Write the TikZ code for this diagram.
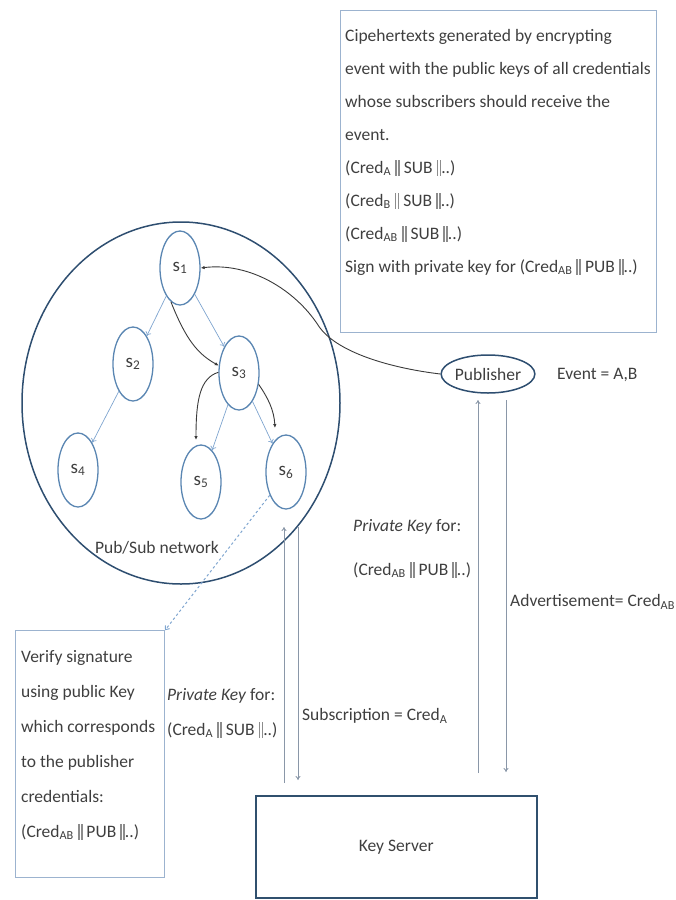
\documentclass[tikz,border=0pt]{standalone}
\usepackage{fontspec}
\setmainfont{Carlito}
\usetikzlibrary{shapes.geometric,arrows.meta}
\definecolor{txt}{HTML}{3F3F3F}
\definecolor{nodeblue}{HTML}{5A86B2}
\definecolor{circblue}{HTML}{2E4E70}
\definecolor{boxblue}{HTML}{9CB3CF}
\definecolor{ksblue}{HTML}{30506E}
\definecolor{arrblue}{HTML}{7FA5CF}
\definecolor{darkarr}{HTML}{3A3A3A}
\definecolor{grayarr}{HTML}{8A97A8}
\definecolor{barcol}{HTML}{8C8C8C}
\newcommand\dbar{\textcolor{barcol}{\rule[-0.15em]{0.1em}{0.9em}\hspace{0.07em}\rule[-0.15em]{0.1em}{0.9em}}}
\tikzset{
  snode/.style={ellipse, draw=nodeblue, line width=1.3pt, minimum width=40pt, minimum height=74pt, inner sep=0pt, font=\fontsize{19}{22}\selectfont\color{txt}},
  barrow/.style={draw=arrblue, line width=0.7pt, -{To[length=4pt,width=6pt]}},
  darrow/.style={draw=darkarr, line width=0.9pt, -{Latex[length=4pt,width=3.5pt]}},
  varrow/.style={draw=grayarr, line width=0.9pt, -{To[length=4pt,width=5pt]}},
  dasharr/.style={draw=arrblue, line width=1pt, dash pattern=on 2.5pt off 2.5pt, -{To[length=4pt,width=6pt]}},
  plain/.style={inner sep=0pt, align=left},
}
\begin{document}
\begin{tikzpicture}[x=1pt,y=-1pt, font=\fontsize{17.5}{33}\selectfont\color{txt}]
\useasboundingbox (0,0) rectangle (676,900);
% top box
\node[draw=boxblue, line width=1.2pt, minimum width=316pt, minimum height=322pt, anchor=north west, inner sep=0pt] (cbox) at (340,10) {};
\node[plain, anchor=north west] (ctext) at (345,29) {Cipehertexts generated by encrypting\\
event with the public keys of all credentials\\
whose subscribers should receive the\\
event.\\
(Cred\textsubscript{A} \dbar{} SUB \dbar..)\\
(Cred\textsubscript{B} \dbar{} SUB \dbar..)\\
(Cred\textsubscript{AB} \dbar{} SUB \dbar..)\\
Sign with private key for (Cred\textsubscript{AB} \dbar{} PUB \dbar..)};
% network
\node[ellipse, draw=circblue, line width=1.5pt, minimum width=318pt, minimum height=362pt, inner sep=0pt] (net) at (181,403) {};
\node[plain] (netlbl) at (157,548) {Pub/Sub network};
\node[snode] (s1) at (180,268) {s\textsubscript{1}};
\node[snode] (s2) at (133,364) {s\textsubscript{2}};
\node[snode] (s3) at (239,373) {s\textsubscript{3}};
\node[snode] (s4) at (78,470) {s\textsubscript{4}};
\node[snode] (s5) at (201,482) {s\textsubscript{5}};
\node[snode] (s6) at (286,472) {s\textsubscript{6}};
\draw[barrow] (s1) -- (s2);
\draw[barrow] (s1) -- (s3);
\draw[barrow] (s2) -- (s4);
\draw[barrow] (s3) -- (s5);
\draw[barrow] (s3) -- (s6);
\draw[darrow] (s1.255) .. controls (186,340) and (198,354) .. (s3.160);
\draw[darrow] (s3.178) .. controls (200,378) and (196,400) .. (196,440);
\draw[darrow] (s3.330) .. controls (268,398) and (274,410) .. (275,428);
% publisher
\node[ellipse, draw=circblue, line width=1.5pt, minimum width=88pt, minimum height=38pt, inner sep=0pt] (pub) at (488,374) {Publisher};
\node[plain, anchor=west] (event) at (557,375) {Event = A,B};
\draw[darrow] (pub.west) .. controls (390,368) and (335,352) .. (318,325) .. controls (295,290) and (250,262) .. (s1.east);
% verify box
\node[draw=boxblue, line width=1.2pt, minimum width=149pt, minimum height=247pt, anchor=north west, inner sep=0pt] (vbox) at (15,630) {};
\node[plain, anchor=north west, font=\fontsize{17.5}{35}\selectfont\color{txt}] (vtext) at (21,650) {Verify signature\\
using public Key\\
which corresponds\\
to the publisher\\
credentials:\\
(Cred\textsubscript{AB} \dbar{} PUB \dbar..)};
\draw[dasharr] (s6.235) -- (vbox.north east);
% private key texts
\node[plain, anchor=north west, font=\fontsize{17.5}{35}\selectfont\color{txt}] (pk1) at (167,688) {\textit{Private Key} for:\\(Cred\textsubscript{A} \dbar{} SUB \dbar..)};
\node[plain, anchor=north west, font=\fontsize{17.5}{44}\selectfont\color{txt}] (pk2) at (353,519) {\textit{Private Key} for:\\(Cred\textsubscript{AB} \dbar{} PUB \dbar..)};
\node[plain, anchor=west] (adv) at (510,602) {Advertisement= Cred\textsubscript{AB}};
\node[plain, anchor=west] (sub) at (302,716) {Subscription = Cred\textsubscript{A}};
% key server
\node[draw=ksblue, line width=1.5pt, minimum width=281pt, minimum height=102pt, anchor=north west, inner sep=0pt] (ks) at (255,795) {};
\node (kslbl) at (ks.center) {Key Server};
% vertical arrows
\coordinate (a1b) at (284,783); \coordinate (a1t) at (284,527);
\coordinate (a2t) at (298,527); \coordinate (a2b) at (298,780);
\coordinate (a3b) at (478,773); \coordinate (a3t) at (478,400);
\coordinate (a4t) at (506,400); \coordinate (a4b) at (506,772);
\draw[varrow] (a1b) -- (a1t);
\draw[varrow] (a2t) -- (a2b);
\draw[varrow] (a3b) -- (a3t);
\draw[varrow] (a4t) -- (a4b);
\end{tikzpicture}
\end{document}
